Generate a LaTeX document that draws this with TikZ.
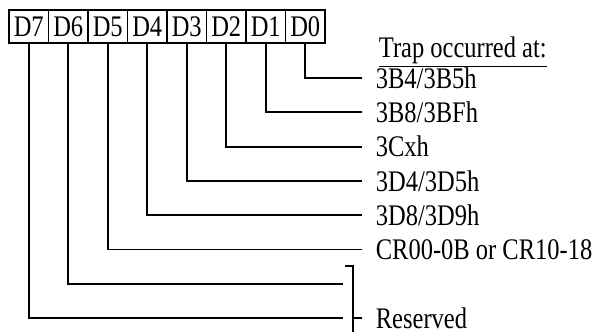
\documentclass[tikz,border=0pt]{standalone}
\usepackage{fontspec}
\setmainfont{Liberation Serif}
\usepackage{graphicx}
\usetikzlibrary{positioning}
\newcommand{\tallfont}[1]{\scalebox{1}[1.22]{#1}}

\begin{document}
\begin{tikzpicture}[x=0.5pt, y=-0.5pt, node distance=0pt, line width=0.9pt]
    \tikzstyle{bitbox} = [draw, rectangle, minimum width=19.75pt, minimum height=16.5pt, inner sep=0pt, outer sep=0pt, font=\fontsize{12.25}{14}\selectfont]
    \tikzstyle{desc}   = [anchor=west, inner xsep=6.5pt, inner ysep=0pt, font=\fontsize{12.25}{14}\selectfont]
    \tikzstyle{wire}   = [line width=0.9pt]

    \useasboundingbox (0,0) rectangle (596,333);

    % register bits
    \node [bitbox] (d7) at (28.75,26.5) {\tallfont{D7}};
    \node [bitbox, right=of d7] (d6) {\tallfont{D6}};
    \node [bitbox, right=of d6] (d5) {\tallfont{D5}};
    \node [bitbox, right=of d5] (d4) {\tallfont{D4}};
    \node [bitbox, right=of d4] (d3) {\tallfont{D3}};
    \node [bitbox, right=of d3] (d2) {\tallfont{D2}};
    \node [bitbox, right=of d2] (d1) {\tallfont{D1}};
    \node [bitbox, right=of d1] (d0) {\tallfont{D0}};

    \node [anchor=base west, inner sep=0pt, font=\fontsize{12.25}{14}\selectfont] (trap) at (378,57) {\underline{\tallfont{Trap occurred at:}}};

    % descriptions
    \node [desc] (l0) at (362,78)    {\tallfont{3B4/3B5h}};
    \node [desc] (l1) at (362,112.3) {\tallfont{3B8/3BFh}};
    \node [desc] (l2) at (362,146.6) {\tallfont{3Cxh}};
    \node [desc] (l3) at (362,180.9) {\tallfont{3D4/3D5h}};
    \node [desc] (l4) at (362,215.2) {\tallfont{3D8/3D9h}};
    \node [desc] (l5) at (362,249.5) {\tallfont{CR00-0B or CR10-18}};
    \node [desc] (resv) at (362,318.1) {\tallfont{Reserved}};

    \coordinate (r6) at (343,283.8);
    \coordinate (r7) at (343,318.1);
    \coordinate (brtop) at (345,266);
    \coordinate (brbot) at (353,332);

    \draw [wire] (d0.south) |- (l0.west);
    \draw [wire] (d1.south) |- (l1.west);
    \draw [wire] (d2.south) |- (l2.west);
    \draw [wire] (d3.south) |- (l3.west);
    \draw [wire] (d4.south) |- (l4.west);
    \draw [wire] (d5.south) |- (l5.west);
    \draw [wire] (d6.south) |- (r6);
    \draw [wire] (d7.south) |- (r7);

    \draw [wire] (brtop) -| (brbot);
    \draw [wire] (brbot |- resv.west) -- (resv.west);
\end{tikzpicture}
\end{document}
